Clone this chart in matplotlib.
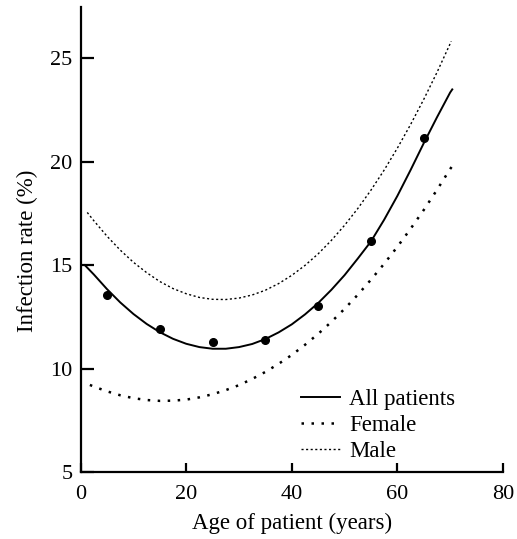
import matplotlib
matplotlib.use("Agg")
import matplotlib.pyplot as plt

# observed infection rates (%) by age group midpoint
ages_obs = [5, 15, 25, 35, 45, 55, 65]
rate_obs = [13.55, 11.9, 11.3, 11.4, 13.05, 16.15, 21.15]

# fitted curves, every 2.5 years
ages_all = [0.8, 2.5, 5, 7.5, 10, 12.5, 15, 17.5, 20, 22.5, 25, 27.5, 30, 32.5, 35,
            37.5, 40, 42.5, 45, 47.5, 50, 52.5, 55, 57.5, 60, 62.5, 65, 67.5, 70, 70.4]
rate_all = [15.0, 14.55, 13.84, 13.2, 12.64, 12.16, 11.76, 11.44, 11.2, 11.04,
            10.96, 10.96, 11.04, 11.19, 11.43, 11.75, 12.14, 12.62, 13.17, 13.81,
            14.52, 15.32, 16.15, 17.2, 18.35, 19.6, 20.9, 22.15, 23.35, 23.5]

ages_female = [1.75, 2.5, 5, 7.5, 10, 12.5, 15, 17.5, 20, 22.5, 25, 27.5, 30, 32.5, 35,
               37.5, 40, 42.5, 45, 47.5, 50, 52.5, 55, 57.5, 60, 62.5, 65, 67.5, 70, 70.5]
rate_female = [9.21, 9.13, 8.9, 8.71, 8.57, 8.48, 8.44, 8.45, 8.5, 8.61,
               8.76, 8.96, 9.2, 9.5, 9.84, 10.23, 10.66, 11.15, 11.68, 12.26,
               12.89, 13.57, 14.3, 15.07, 15.89, 16.76, 17.67, 18.64, 19.65, 19.83]

ages_male = [1.25, 2.5, 5, 7.5, 10, 12.5, 15, 17.5, 20, 22.5, 25, 27.5, 30, 32.5, 35,
             37.5, 40, 42.5, 45, 47.5, 50, 52.5, 55, 57.5, 60, 62.5, 65, 67.5, 70, 70.2]
rate_male = [17.55, 17.15, 16.4, 15.73, 15.14, 14.64, 14.21, 13.87, 13.62, 13.44,
             13.35, 13.34, 13.41, 13.56, 13.79, 14.11, 14.51, 14.99, 15.55, 16.2,
             16.93, 17.74, 18.63, 19.6, 20.66, 21.8, 23.02, 24.32, 25.71, 25.83]

plt.rcParams['font.family'] = ['Liberation Serif', 'DejaVu Serif']

fig = plt.figure(figsize=(5.17, 5.39), dpi=100)
ax = fig.add_axes([0.156, 0.1243, 0.8168, 0.8633])

ax.plot(ages_all, rate_all, color='black', linewidth=1.4, label='All patients')
ax.plot(ages_female, rate_female, color='black', linewidth=1.8,
        linestyle=(0, (1.0, 3.0)), label='Female')
ax.plot(ages_male, rate_male, color='black', linewidth=1.0,
        linestyle=(0, (1.5, 1.8)), label='Male')
ax.plot(ages_obs, rate_obs, 'o', color='black', markersize=5.5)

ax.set_xlim(0, 80)
ax.set_ylim(5, 27.5)
ax.set_xticks([0, 20, 40, 60, 80])
ax.set_yticks([5, 10, 15, 20, 25])

for side in ['top', 'right']:
    ax.spines[side].set_visible(False)
for side in ['left', 'bottom']:
    ax.spines[side].set_linewidth(1.6)

ax.tick_params(axis='x', direction='in', length=6.5, width=1.6, pad=9, labelsize=16)
ax.tick_params(axis='y', direction='in', length=9.5, width=1.6, pad=6, labelsize=16)

ax.set_xlabel('Age of patient (years)', fontsize=16.5, labelpad=7)
ax.set_ylabel('Infection rate (%)', fontsize=16.5)
ax.yaxis.set_label_coords(-0.1, 0.475)

ax.legend(loc='lower left', bbox_to_anchor=(0.498, 0.0), frameon=False, fontsize=16.5,
          handlelength=1.7, handletextpad=0.4, labelspacing=0.2, borderaxespad=0.05)

fig.savefig('out.png', dpi=100)
